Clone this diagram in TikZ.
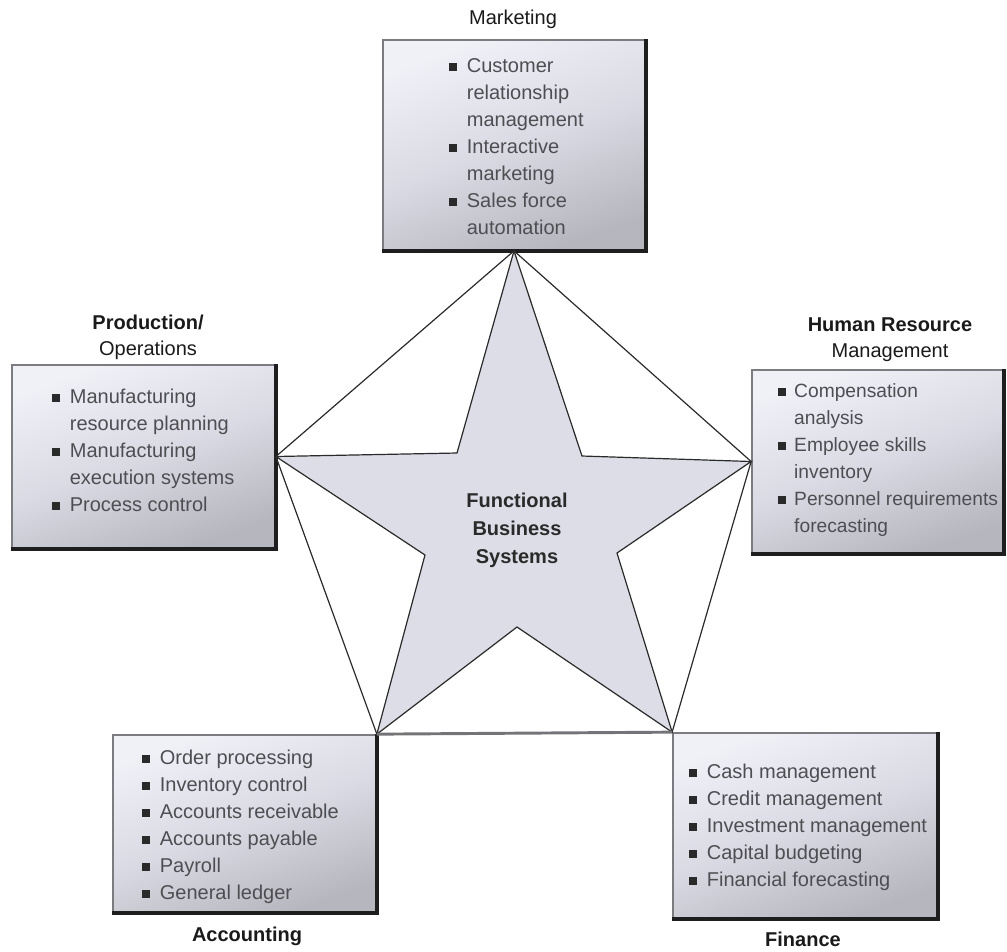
\documentclass[tikz,border=0pt]{standalone}
\usepackage{fontspec}
\setmainfont{Liberation Sans}
\usetikzlibrary{fit}

\definecolor{boxtop}{HTML}{F0F0F7}
\definecolor{boxmid}{HTML}{DADAE4}
\definecolor{boxbot}{HTML}{B6B6BE}
\definecolor{boxline}{HTML}{7C7C80}
\definecolor{shadowc}{HTML}{1E1E1E}
\definecolor{starfill}{HTML}{DCDDE7}
\definecolor{edgec}{HTML}{2A2A2A}
\definecolor{basec}{HTML}{747478}
\definecolor{listc}{HTML}{4E4E52}
\definecolor{bulletc}{HTML}{2A2A2A}
\definecolor{titlec}{HTML}{1A1A1A}

% square bullet used in the item lists
\newcommand\sqbul{\textcolor{bulletc}{\rule[0.08em]{0.38em}{0.38em}}}

\begin{document}
\begin{tikzpicture}[x=0.75pt,y=-0.75pt,
  box/.style={top color=boxtop, bottom color=boxbot, middle color=boxmid,
    shading angle=20, draw=boxline, line width=1.3pt, inner sep=0pt},
  shadowedge/.style={draw=shadowc, line width=2.6pt},
  itemlist/.style={anchor=north west, inner sep=0pt, text=listc,
    font=\fontsize{15pt}{20.25pt}\selectfont},
  heading/.style={inner sep=0pt, text=titlec, align=center,
    font=\fontsize{15pt}{19.5pt}\selectfont},
  edge/.style={draw=edgec, line width=0.9pt, line join=miter},
  startext/.style={inner sep=0pt, text=edgec, align=center,
    font=\fontsize{15pt}{21pt}\selectfont\bfseries}
]
\useasboundingbox (0,0) rectangle (1007,951);

% ---- the five function boxes ----
\node[box, fit={(383,40) (645,250)}]   (mk) {};
\node[box, fit={(12,365) (275,548)}]   (po) {};
\node[box, fit={(752,370) (1003,553)}] (hr) {};
\node[box, fit={(113,735) (376,912)}]  (ac) {};
\node[box, fit={(673,733) (937,918)}]  (fi) {};

\foreach \b in {mk,po,hr,ac,fi}
  \draw[shadowedge] (\b.north east) -- (\b.south east) -- (\b.south west);

% ---- item lists ----
\node[itemlist] (mkl) at (449,53) {%
  \begin{tabular}{@{}l@{\hspace{7.5pt}}l@{}}
  \sqbul & Customer\\ & relationship\\ & management\\
  \sqbul & Interactive\\ & marketing\\
  \sqbul & Sales force\\ & automation
  \end{tabular}};
\node[itemlist] (pol) at (52,384) {%
  \begin{tabular}{@{}l@{\hspace{7.5pt}}l@{}}
  \sqbul & Manufacturing\\ & resource planning\\
  \sqbul & Manufacturing\\ & execution systems\\
  \sqbul & Process control
  \end{tabular}};
\node[itemlist, font=\fontsize{14.4pt}{20.25pt}\selectfont] (hrl) at (778,378) {%
  \begin{tabular}{@{}l@{\hspace{6.5pt}}l@{}}
  \sqbul & Compensation\\ & analysis\\
  \sqbul & Employee skills\\ & inventory\\
  \sqbul & Personnel requirements\\ & forecasting
  \end{tabular}};
\node[itemlist] (acl) at (142,745) {%
  \begin{tabular}{@{}l@{\hspace{7.5pt}}l@{}}
  \sqbul & Order processing\\
  \sqbul & Inventory control\\
  \sqbul & Accounts receivable\\
  \sqbul & Accounts payable\\
  \sqbul & Payroll\\
  \sqbul & General ledger
  \end{tabular}};
\node[itemlist] (fil) at (689,759) {%
  \begin{tabular}{@{}l@{\hspace{7.5pt}}l@{}}
  \sqbul & Cash management\\
  \sqbul & Credit management\\
  \sqbul & Investment management\\
  \sqbul & Capital budgeting\\
  \sqbul & Financial forecasting
  \end{tabular}};

% ---- headings ----
\node[heading] (mkh) at (513,19) {Marketing};
\node[heading] (poh) at (148,337) {\textbf{Production/}\\Operations};
\node[heading] (hrh) at (890,340) {\textbf{Human Resource}\\Management};
\node[heading, font=\fontsize{15pt}{19.5pt}\selectfont\bfseries] (ach) at (247,936) {Accounting};
\node[heading, font=\fontsize{15pt}{19.5pt}\selectfont\bfseries] (fih) at (803,939) {Finance};

% ---- star and surrounding pentagon ----
\coordinate (pT)  at (mk.south);
\coordinate (pR)  at (hr.west);
\coordinate (pBR) at (fi.north west);
\coordinate (pBL) at (ac.north east);
\coordinate (pL)  at (po.east);
\coordinate (iUR) at (582,456);
\coordinate (iRL) at (617,553);
\coordinate (iB)  at (517,627);
\coordinate (iLL) at (425,555);
\coordinate (iUL) at (457,453);

\filldraw[edge, fill=starfill] (pT) -- (iUR) -- (pR) -- (iRL) -- (pBR) -- (iB)
  -- (pBL) -- (iLL) -- (pL) -- (iUL) -- cycle;
\draw[edge] (pL) -- (pT) -- (pR) -- (pBR);
\draw[edge] (pBL) -- (pL);
\draw[draw=basec, line width=2.2pt] (pBL) -- (pBR);

\node[startext] (core) at (517,530) {Functional\\Business\\Systems};
\end{tikzpicture}
\end{document}
